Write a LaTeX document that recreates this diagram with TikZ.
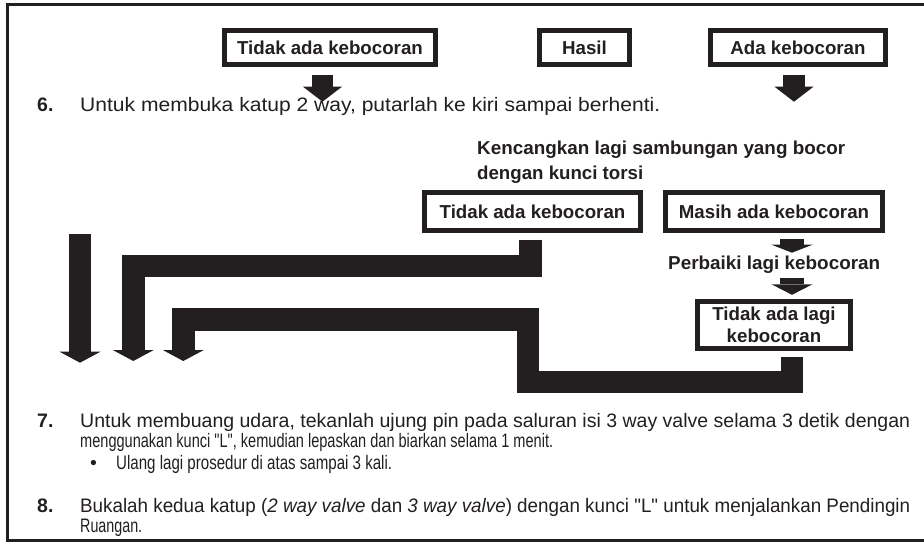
\documentclass[tikz,border=0pt]{standalone}
\usepackage{fontspec}
\setmainfont{Liberation Sans}
\newfontfamily\qf{Liberation Sans}
\usepackage{graphicx}
\usetikzlibrary{arrows.meta}
\definecolor{ink}{HTML}{231F20}
\newcommand{\fitw}[2]{\resizebox{#1}{\height}{#2}}
\newcommand{\boxfont}{\fontsize{18.7}{21.5}\selectfont\bfseries}
\newcommand{\bodyfont}{\fontsize{19.5}{21}\selectfont}
\newcommand{\sq}{{\qf\symbol{34}}}
\begin{document}
\begin{tikzpicture}[x=1pt,y=-1pt,
  blk/.style={draw=ink, line width=5pt, fill=white, inner sep=0pt, font=\boxfont, text=ink},
  lbl/.style={anchor=base west, inner sep=0pt, font=\boxfont, text=ink},
  body/.style={anchor=base west, inner sep=0pt, font=\bodyfont, text=ink},
  num/.style={anchor=base west, inner sep=0pt, font=\bodyfont\bfseries, text=ink},
  topar/.style={draw=ink, line width=21.5pt, -{Triangle[width=39pt,length=15pt,line width=0pt]}},
  midar/.style={draw=ink, line width=24pt, -{Triangle[width=41pt,length=#1,line width=0pt]}},
  fatar/.style={draw=ink, line width=22.5pt, line join=miter, -{Triangle[width=41pt,length=11pt,line width=0pt]}},
  frame/.style={draw=ink, line width=3pt, line join=miter}]
\useasboundingbox (0,0) rectangle (924,544);
\fill[white] (0,0) rectangle (924,544);
\draw[frame] (926,4.5) -- (7.5,4.5) -- (7.5,540.5) -- (926,540.5);

% top row
\node[blk, minimum width=211pt, minimum height=34pt] (t1) at (330,47.5) {Tidak ada kebocoran};
\node[blk, minimum width=90pt, minimum height=34pt] (hasil) at (584.5,47.5) {Hasil};
\node[blk, minimum width=175pt, minimum height=34pt] (ada) at (798,47.5) {Ada kebocoran};
\coordinate (a1e) at (322.5,101.7);
\coordinate (a2e) at (794,101.7);
\draw[topar] ([xshift=-7.5pt,yshift=-7.5pt]t1.south) -- (a1e);
\draw[topar] ([xshift=-4pt,yshift=-7.5pt]ada.south) -- (a2e);

% step 6
\node[num] (n6) at (37,111) {6.};
\node[body] (s6) at (80,111) {\fitw{580pt}{Untuk membuka katup 2 way, putarlah ke kiri sampai berhenti.}};

% second part
\node[lbl] (k1) at (477,154) {\fitw{368pt}{Kencangkan lagi sambungan yang bocor}};
\node[lbl] (k2) at (477,179) {\fitw{166pt}{dengan kunci torsi}};
\node[blk, minimum width=216pt, minimum height=38pt] (t2) at (532.5,211.5) {Tidak ada kebocoran};
\node[blk, minimum width=217pt, minimum height=38pt] (masih) at (774,211.5) {Masih ada kebocoran};
\node[lbl] (perb) at (668,269.3) {\fitw{212pt}{Perbaiki lagi kebocoran}};
\node[blk, minimum width=153pt, minimum height=47pt, align=center] (lagi) at (774,325) {Tidak ada lagi\\kebocoran};

\coordinate (m1e) at (792,252.7);
\coordinate (m2s) at (792,278.3);
\draw[midar=8pt] ([xshift=18pt,yshift=-5.5pt]masih.south) -- (m1e);
\draw[midar=10.5pt] (m2s) -- ([xshift=18pt,yshift=4.2pt]lagi.north);

% long connectors
\coordinate (l1s) at (80,234);
\coordinate (l1e) at (80,362.7);
\draw[fatar] (l1s) -- (l1e);

\coordinate (c1b) at (530.5,266);
\coordinate (c1c) at (133.3,266);
\coordinate (c1e) at (133.3,361);
\draw[fatar] ([xshift=-2pt,yshift=-6.5pt]t2.south) -- (c1b) -- (c1c) -- (c1e);

\coordinate (c2b) at (792,382);
\coordinate (c2c) at (528,382);
\coordinate (c2d) at (528,319.5);
\coordinate (c2f) at (183.3,319.5);
\coordinate (c2e) at (183.3,361);
\draw[fatar] ([xshift=18pt,yshift=-5.5pt]lagi.south) -- (c2b) -- (c2c) -- (c2d) -- (c2f) -- (c2e);

% step 7
\node[num] (n7) at (37,427) {7.};
\node[body] (s7a) at (80,427) {\fitw{830pt}{Untuk membuang udara, tekanlah ujung pin pada saluran isi 3 way valve selama 3 detik dengan}};
\node[body] (s7b) at (80,447) {\fitw{473pt}{menggunakan kunci \sq L\sq, kemudian lepaskan dan biarkan selama 1 menit.}};
\node[body] (bul) at (90,469) {•};
\node[body] (s7c) at (116,469) {\fitw{276pt}{Ulang lagi prosedur di atas sampai 3 kali.}};

% step 8
\node[num] (n8) at (37,512) {8.};
\node[body] (s8a) at (80,512) {\fitw{830pt}{Bukalah kedua katup (\textit{2 way valve} dan \textit{3 way valve}) dengan kunci \sq L\sq\ untuk menjalankan Pendingin}};
\node[body] (s8b) at (80,532) {\fitw{62pt}{Ruangan.}};
\end{tikzpicture}
\end{document}
